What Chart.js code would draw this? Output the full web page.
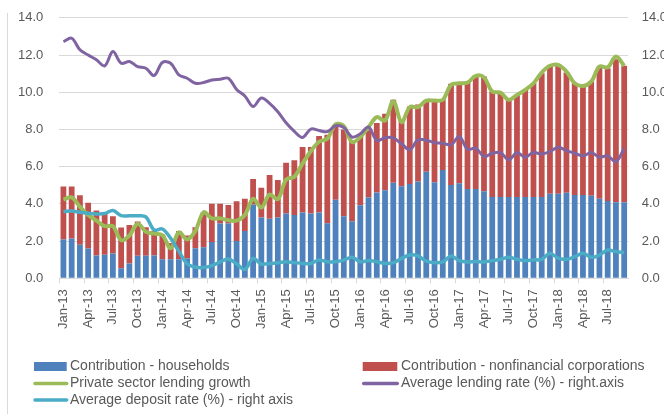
<!DOCTYPE html>
<html>
<head>
<meta charset="utf-8">
<script src="https://cdn.jsdelivr.net/npm/chart.js@4.4.1/dist/chart.umd.min.js"></script>
<style>
  html, body { margin: 0; padding: 0; background: #fff; }
  #wrap { position: relative; width: 664px; height: 414px; }
</style>
</head>
<body>
<div id="wrap"><canvas id="chartCanvas"></canvas></div>
<script>
// Months, Jan-13 .. Sep-18
const months = [
    'Jan-13', 'Feb-13', 'Mar-13', 'Apr-13', 'May-13', 'Jun-13', 'Jul-13', 'Aug-13', 'Sep-13', 'Oct-13', 'Nov-13', 'Dec-13',
    'Jan-14', 'Feb-14', 'Mar-14', 'Apr-14', 'May-14', 'Jun-14', 'Jul-14', 'Aug-14', 'Sep-14', 'Oct-14', 'Nov-14', 'Dec-14',
    'Jan-15', 'Feb-15', 'Mar-15', 'Apr-15', 'May-15', 'Jun-15', 'Jul-15', 'Aug-15', 'Sep-15', 'Oct-15', 'Nov-15', 'Dec-15',
    'Jan-16', 'Feb-16', 'Mar-16', 'Apr-16', 'May-16', 'Jun-16', 'Jul-16', 'Aug-16', 'Sep-16', 'Oct-16', 'Nov-16', 'Dec-16',
    'Jan-17', 'Feb-17', 'Mar-17', 'Apr-17', 'May-17', 'Jun-17', 'Jul-17', 'Aug-17', 'Sep-17', 'Oct-17', 'Nov-17', 'Dec-17',
    'Jan-18', 'Feb-18', 'Mar-18', 'Apr-18', 'May-18', 'Jun-18', 'Jul-18', 'Aug-18', 'Sep-18'
];

//Contribution - households (bottom part of the bars)
const households = [
    2.09, 2.14, 1.80, 1.60, 1.23, 1.27, 1.33, 0.54, 0.80, 1.21, 1.21, 1.22,
    1.02, 1.02, 1.02, 1.06, 1.61, 1.67, 1.95, 2.95, 2.95, 2.00, 2.54, 3.97,
    3.27, 3.20, 3.27, 3.48, 3.40, 3.53, 3.48, 3.54, 2.96, 4.22, 3.34, 3.07,
    3.93, 4.34, 4.61, 4.73, 5.13, 4.95, 5.07, 5.20, 5.72, 5.16, 5.82, 5.02,
    5.11, 4.80, 4.80, 4.68, 4.37, 4.37, 4.37, 4.37, 4.37, 4.37, 4.37, 4.55,
    4.55, 4.60, 4.48, 4.48, 4.43, 4.28, 4.16, 4.09, 4.09
];

//Contribution - nonfinancial corporations (stacked on top)
const corporations = [
    2.85, 2.80, 2.66, 2.46, 2.42, 2.18, 2.00, 2.19, 2.06, 1.84, 1.53, 1.33,
    1.33, 0.88, 1.52, 1.24, 1.13, 1.89, 2.06, 1.06, 0.99, 2.14, 1.73, 1.36,
    1.60, 2.35, 2.01, 2.73, 2.94, 3.53, 3.58, 4.11, 4.75, 4.00, 4.66, 4.33,
    3.72, 3.61, 3.73, 4.11, 4.46, 3.57, 4.16, 4.14, 3.85, 4.34, 3.80, 5.43,
    5.37, 5.75, 6.10, 6.16, 5.67, 5.58, 5.22, 5.49, 5.76, 6.11, 6.65, 6.87,
    6.95, 6.46, 6.00, 5.82, 6.14, 7.10, 7.13, 7.68, 7.33
];

//Private sector lending growth
const lendingGrowth = [
    4.23, 4.35, 3.84, 3.40, 3.10, 2.80, 2.80, 2.05, 2.30, 2.93, 2.50, 2.40,
    2.32, 1.61, 2.47, 2.09, 2.55, 3.55, 3.22, 3.22, 3.12, 3.10, 3.40, 4.27,
    3.80, 4.50, 4.25, 5.30, 5.46, 6.17, 6.83, 7.34, 7.50, 8.27, 8.18, 7.32,
    7.59, 8.13, 8.66, 8.48, 9.52, 8.39, 9.20, 9.20, 9.55, 9.55, 9.59, 10.39,
    10.48, 10.52, 10.88, 10.80, 10.04, 9.98, 9.59, 9.86, 10.13, 10.48, 11.06, 11.42,
    11.47, 11.11, 10.48, 10.34, 10.57, 11.38, 11.34, 11.92, 11.42
];

//Average lending rate (%) - right axis
const lendingRate = [
    12.72, 12.90, 12.28, 12.00, 11.74, 11.42, 12.19, 11.56, 11.65, 11.38, 11.29, 10.90,
    11.60, 11.56, 10.93, 10.75, 10.48, 10.52, 10.66, 10.70, 10.75, 10.15, 9.80, 9.23,
    9.69, 9.40, 8.95, 8.36, 7.90, 7.57, 8.02, 7.94, 7.88, 8.20, 8.10, 7.59,
    7.77, 8.13, 7.41, 7.55, 7.55, 7.23, 6.91, 7.45, 7.42, 7.29, 7.26, 7.17,
    7.62, 6.94, 6.99, 6.54, 6.72, 6.76, 6.36, 6.76, 6.51, 6.76, 6.68, 6.81,
    7.04, 6.86, 6.72, 6.58, 6.76, 6.51, 6.58, 6.27, 6.99
];

//Average deposit rate (%) - right axis
const depositRate = [
    3.59, 3.62, 3.55, 3.50, 3.46, 3.48, 3.64, 3.37, 3.36, 3.36, 3.30, 2.60,
    2.65, 2.15, 1.45, 0.78, 0.60, 0.58, 0.68, 0.88, 1.04, 0.78, 0.47, 1.07,
    0.77, 0.80, 0.84, 0.89, 0.84, 0.80, 0.80, 0.98, 0.89, 0.89, 0.98, 1.13,
    0.89, 0.95, 0.89, 0.80, 0.84, 1.07, 1.25, 1.20, 0.92, 0.84, 0.88, 1.20,
    0.95, 0.88, 0.90, 0.88, 0.95, 1.02, 1.13, 1.02, 0.95, 0.99, 1.02, 1.34,
    1.08, 1.02, 1.16, 1.34, 1.13, 1.25, 1.52, 1.43, 1.38
];

const axisTicks = { min: 0, max: 14, step: 2 };

const textColor = '#595959';
const gridColor = '#d9d9d9';
const fontFamily = '"Liberation Sans", Arial, sans-serif';

//Draws the two column legend under the chart and the thin frame line on the left
const legendPlugin = {
    id: 'columnLegend',
    afterDraw(chart) {
        const ctx = chart.ctx;
        ctx.save();
        ctx.strokeStyle = gridColor;
        ctx.lineWidth = 1;
        ctx.beginPath();
        ctx.moveTo(7.5, 13);
        ctx.lineTo(7.5, 414);
        ctx.stroke();

        const cols = [{ x0: 34, x1: 66.7, tx: 70 }, { x0: 362.7, x1: 397.3, tx: 401 }];
        const rows = [366.5, 383.5, 400];
        ctx.font = '14px ' + fontFamily;
        ctx.textBaseline = 'middle';
        chart.data.datasets.forEach((ds, i) => {
            const col = cols[i % 2];
            const y = rows[Math.floor(i / 2)];
            if (ds.type === 'bar') {
                ctx.fillStyle = ds.backgroundColor;
                ctx.fillRect(col.x0, y - 4.5, col.x1 - col.x0, 9);
            } else {
                ctx.strokeStyle = ds.borderColor;
                ctx.lineWidth = 3.5;
                ctx.lineCap = 'round';
                ctx.beginPath();
                ctx.moveTo(col.x0 + 1, y);
                ctx.lineTo(col.x1, y);
                ctx.stroke();
            }
            ctx.fillStyle = textColor;
            ctx.fillText(ds.label, col.tx, y);
        });
        ctx.restore();
    }
};

const tickFont = { family: fontFamily, size: 13 };

//Fixes the width of a value axis and drops the label overflow padding
function fixAxis(width) {
    return (scale) => {
        scale.width = width;
        scale.paddingTop = 0;
        scale.paddingBottom = 0;
    };
}

const ctx = document.getElementById('chartCanvas');
window.myChart = new Chart(ctx, {
    data: {
        labels: months,
        datasets: [{
            type: 'bar',
            label: 'Contribution - households',
            data: households,
            backgroundColor: '#4f81bd',
            stack: 'contrib',
            yAxisID: 'y',
            order: 4,
            barPercentage: 0.7,
            categoryPercentage: 1
        }, {
            type: 'bar',
            label: 'Contribution - nonfinancial corporations',
            data: corporations,
            backgroundColor: '#c0504d',
            stack: 'contrib',
            yAxisID: 'y',
            order: 5,
            barPercentage: 0.7,
            categoryPercentage: 1
        }, {
            type: 'line',
            label: 'Private sector lending growth',
            data: lendingGrowth,
            borderColor: '#9bbb59',
            borderWidth: 4,
            pointRadius: 0,
            tension: 0.35,
            stack: 'growth',
            yAxisID: 'y',
            order: 3
        }, {
            type: 'line',
            label: 'Average lending rate (%) - right.axis',
            data: lendingRate,
            borderColor: '#8064a2',
            borderWidth: 3,
            pointRadius: 0,
            tension: 0.35,
            yAxisID: 'y1',
            order: 2
        }, {
            type: 'line',
            label: 'Average deposit rate (%) - right axis',
            data: depositRate,
            borderColor: '#4bacc6',
            borderWidth: 3.5,
            pointRadius: 0,
            tension: 0.35,
            yAxisID: 'y1',
            order: 1
        }]
    },
    options: {
        responsive: true,
        maintainAspectRatio: false,
        animation: false,
        layout: {
            padding: { top: 17.8, left: 0, right: 0, bottom: 75.7 }
        },
        plugins: {
            legend: { display: false },
            tooltip: { enabled: false }
        },
        scales: {
            x: {
                stacked: true,
                grid: {
                    drawOnChartArea: false,
                    tickLength: 5,
                    tickColor: (c) => (c.index % 3 === 0 ? gridColor : 'rgba(0,0,0,0)')
                },
                border: { color: gridColor },
                ticks: {
                    autoSkip: false,
                    maxRotation: 90,
                    minRotation: 90,
                    padding: 6,
                    color: textColor,
                    font: tickFont,
                    callback: function (value, index) {
                        return index % 3 === 0 ? this.getLabelForValue(value) : '';
                    }
                },
                afterFit: (scale) => { scale.height = 60; }
            },
            y: {
                stacked: true,
                position: 'left',
                min: axisTicks.min,
                max: axisTicks.max,
                grid: { color: gridColor, drawTicks: false },
                border: { display: false },
                ticks: {
                    stepSize: axisTicks.step,
                    padding: 16,
                    color: textColor,
                    font: tickFont,
                    callback: (v) => v.toFixed(1)
                },
                afterFit: fixAxis(59.3)
            },
            y1: {
                position: 'right',
                min: axisTicks.min,
                max: axisTicks.max,
                grid: { drawOnChartArea: false, drawTicks: false },
                border: { display: false },
                ticks: {
                    stepSize: axisTicks.step,
                    padding: 13.4,
                    color: textColor,
                    font: tickFont,
                    callback: (v) => v.toFixed(1)
                },
                afterFit: fixAxis(35.7)
            }
        }
    },
    plugins: [legendPlugin]
});
</script>
</body>
</html>
